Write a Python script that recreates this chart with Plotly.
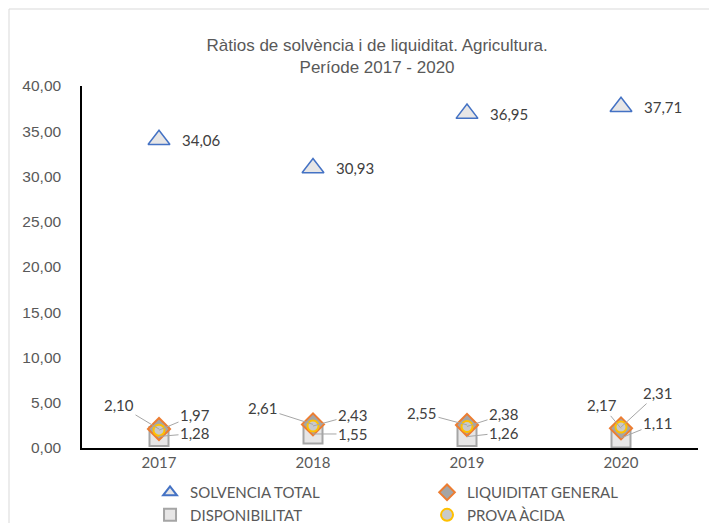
import plotly.graph_objects as go

# Data
years = ["2017", "2018", "2019", "2020"]
solvencia_total = [34.06, 30.93, 36.95, 37.71]
liquiditat_general = [2.10, 2.61, 2.55, 2.17]
disponibilitat = [1.28, 1.55, 1.26, 1.11]
prova_acida = [1.97, 2.43, 2.38, 2.31]

# label offsets (pixels) for the small series
liq_offsets = [(-40, -24), (-50, -16), (-45, -12), (-19, -23)]
prova_offsets = [(36, -15), (40, -11), (37, -12), (37, -34)]
disp_offsets = [(36, -3), (40, 0), (37, -4), (37, -15)]

lab_font = dict(family="Lato, Calibri, sans-serif", size=15, color="#404040")
fmt = lambda v: ("%.2f" % v).replace(".", ",")
idx = list(range(len(years)))

fig = go.Figure()

fig.add_trace(go.Scatter(
    x=years, y=solvencia_total, name="SOLVENCIA TOTAL", mode="markers",
    marker=dict(symbol="triangle-up", size=19, color="#E7E6E6",
                line=dict(color="#4472C4", width=1.5)),
    legendrank=1))

fig.add_trace(go.Scatter(
    x=years, y=disponibilitat, name="DISPONIBILITAT", mode="markers",
    marker=dict(symbol="square", size=19, color="#E7E6E6",
                line=dict(color="#A5A5A5", width=2)),
    legendrank=3))

fig.add_trace(go.Scatter(
    x=years, y=liquiditat_general, name="LIQUIDITAT GENERAL", mode="markers",
    marker=dict(symbol="diamond", size=17, color="#A5A5A5",
                line=dict(color="#ED7D31", width=2)),
    legendrank=2))

fig.add_trace(go.Scatter(
    x=years, y=prova_acida, name="PROVA ÀCIDA", mode="markers",
    marker=dict(symbol="circle", size=11, color="#C9C9C9",
                line=dict(color="#FFC000", width=2)),
    legendrank=4))

annotations = []
for i, v in zip(idx, solvencia_total):
    annotations.append(dict(x=i, y=v, xref="x", yref="y", text=fmt(v), font=lab_font,
                            showarrow=False, xanchor="left", xshift=21))

for series, offs in [(liquiditat_general, liq_offsets),
                     (prova_acida, prova_offsets),
                     (disponibilitat, disp_offsets)]:
    for i, v, (ax, ay) in zip(idx, series, offs):
        annotations.append(dict(
            x=i, y=v, xref="x", yref="y", text=fmt(v), font=lab_font,
            showarrow=True, arrowhead=0, arrowwidth=1, arrowcolor="#A6A6A6",
            ax=ax, ay=ay, standoff=0))

fig.update_layout(
    width=709, height=523,
    margin=dict(l=82, r=11, t=86, b=75),
    paper_bgcolor="white", plot_bgcolor="white",
    separators=",.",
    title=dict(text="Ràtios de solvència i de liquiditat. Agricultura.<br>Període 2017 - 2020",
               font=dict(family="Liberation Sans, Arial", size=17, color="#595959"),
               x=0.479, xref="paper", xanchor="center",
               y=0.903, yref="container", yanchor="top"),
    xaxis=dict(type="category", range=[-0.5, 3.5], showline=True, linecolor="black",
               linewidth=1.5, showgrid=False, ticks="", automargin=False,
               tickfont=dict(family="Lato, Calibri, sans-serif", size=15, color="#595959")),
    yaxis=dict(range=[0, 40], dtick=5, tickformat=".2f", showline=True, linecolor="black",
               linewidth=1.5, showgrid=False, zeroline=False, ticks="",
               ticklabelstandoff=16, automargin=False,
               tickfont=dict(family="Liberation Sans, Arial", size=15.5, color="#595959")),
    legend=dict(orientation="h", xref="container", yref="container",
                x=0.2116, xanchor="left", y=0.0897, yanchor="top",
                entrywidth=232, entrywidthmode="pixels", traceorder="normal",
                font=dict(family="Lato, Calibri, sans-serif", size=15, color="#595959"),
                itemsizing="constant", tracegroupgap=0),
    annotations=annotations,
    shapes=[dict(type="rect", xref="paper", yref="paper",
                 x0=-0.1185, x1=1.04, y0=-0.23, y1=1.2127,
                 line=dict(color="#D9D9D9", width=1), layer="below")],
    showlegend=True,
)

# drop the default page margin so the figure sits at the window's corner
fig.write_html("out.html", config={"displayModeBar": False},
               post_script="document.body.style.margin='0';")
